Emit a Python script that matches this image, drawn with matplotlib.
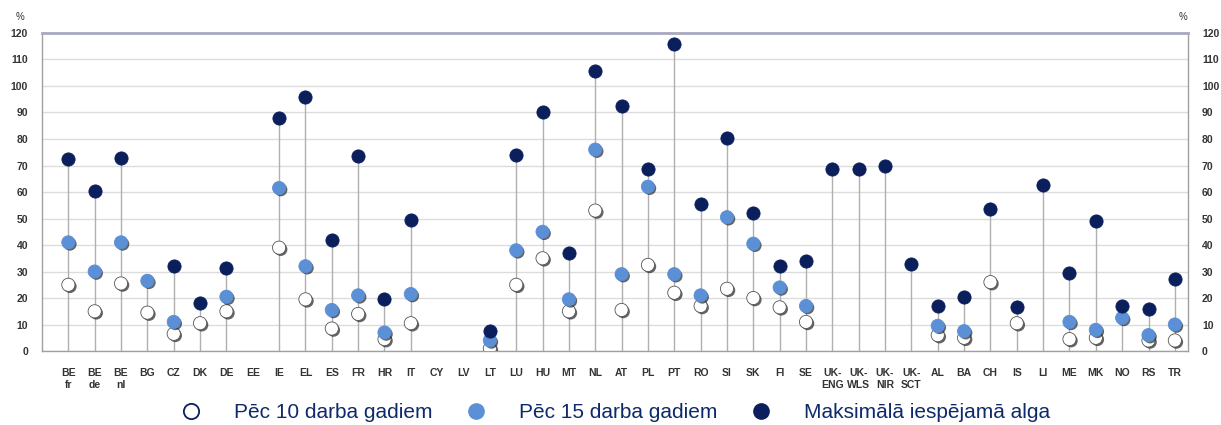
import numpy as np
import matplotlib
matplotlib.use('Agg')
import matplotlib.pyplot as plt
import matplotlib.patheffects as pe
from matplotlib.lines import Line2D

plt.rcParams['font.family'] = ['Liberation Sans', 'DejaVu Sans']

# data, nan = no value
countries = ['BE\nfr', 'BE\nde', 'BE\nnl', 'BG', 'CZ', 'DK', 'DE', 'EE', 'IE', 'EL', 'ES', 'FR',
             'HR', 'IT', 'CY', 'LV', 'LT', 'LU', 'HU', 'MT', 'NL', 'AT', 'PL', 'PT', 'RO', 'SI',
             'SK', 'FI', 'SE', 'UK-\nENG', 'UK-\nWLS', 'UK-\nNIR', 'UK-\nSCT', 'AL', 'BA', 'CH',
             'IS', 'LI', 'ME', 'MK', 'NO', 'RS', 'TR']
nan = np.nan
after10 = [25, 15, 25.5, 14.5, 6.5, 10.5, 15, nan, 39, 19.5, 8.5, 14,
           4.5, 10.5, nan, nan, 1, 25, 35, 15, 53, 15.5, 32.5, 22, 17, 23.5,
           20, 16.5, 11, nan, nan, nan, nan, 6, 5, 26,
           10.5, nan, 4.5, 5, nan, 4, 4]
after15 = [41, 30, 41, 26.5, 11, nan, 20.5, nan, 61.5, 32, 15.5, 21,
           7, 21.5, nan, nan, 4, 38, 45, 19.5, 76, 29, 62, 29, 21, 50.5,
           40.5, 24, 17, nan, nan, nan, nan, 9.5, 7.5, nan,
           nan, nan, 11, 8, 12.5, 6, 10]
maximum = [72.5, 60.5, 73, nan, 32, 18, 31.5, nan, 88, 96, 42, 73.5,
           19.5, 49.5, nan, nan, 7.5, 74, 90, 37, 105.5, 92.5, 68.5, 116, 55.5, 80.5,
           52, 32, 34, 68.5, 68.5, 70, 33, 17, 20.5, 53.5,
           16.5, 62.5, 29.5, 49, 17, 16, 27]

labels = ['Pēc 10 darba gadiem', 'Pēc 15 darba gadiem', 'Maksimālā iespējamā alga']

dark = '#0a1f5c'
light = '#5b8fd6'

x = np.arange(len(countries))
top = np.nanmax(np.vstack([after10, after15, maximum]), axis=0)

fig = plt.figure(figsize=(12.21, 4.25), dpi=100)
ax = fig.add_axes([0.0344, 0.174, 0.9386, 0.7484])

# stems
for xi, t in zip(x, top):
    if not np.isnan(t):
        ax.plot([xi, xi], [0, t], color='#b0b0b0', lw=1.0, zorder=2)

shadow = [pe.SimplePatchShadow(offset=(1.2, -1.2), shadow_rgbFace='#222222', alpha=0.7), pe.Normal()]
ax.plot(x, after10, 'o', ms=9.5, mfc='white', mec='#555555', mew=0.6, zorder=3, path_effects=shadow)
ax.plot(x, after15, 'o', ms=9.5, mfc=light, mec=light, mew=0.6, zorder=4, path_effects=shadow)
ax.plot(x, maximum, 'o', ms=9.5, mfc=dark, mec=dark, mew=0.6, zorder=5)

ax.set_xlim(-1, 42.5)
ax.set_ylim(0, 120)
ax.set_yticks(range(0, 121, 10))
ax.yaxis.grid(True, color='#dcdcdc', lw=1.0)
ax.set_axisbelow(True)
ax.set_xticks(x)
ax.set_xticklabels(countries, fontsize=7.5, fontweight='bold', color='#333333', linespacing=1.3)
ax.tick_params(axis='x', length=0, pad=12)
ax.tick_params(axis='y', length=0, pad=10, labelsize=7.5, labelcolor='#333333',
               right=True, labelright=True)
for lab in ax.get_yticklabels():
    lab.set_fontweight('bold')
for s in ['left', 'bottom', 'right']:
    ax.spines[s].set_color('#a0a0a0')
    ax.spines[s].set_linewidth(1.0)
ax.spines['top'].set_color('#a8a8c0')
ax.spines['top'].set_linewidth(2.0)

fig.text(20 / 1221, 1 - 17 / 425, '%', fontsize=7, color='#333333', ha='center', va='center')
fig.text(1183 / 1221, 1 - 17 / 425, '%', fontsize=7, color='#333333', ha='center', va='center')

handles = [Line2D([], [], ls='none', marker='o', ms=11, mfc='white', mec='#0a1f5c', mew=1.3),
           Line2D([], [], ls='none', marker='o', ms=11, mfc=light, mec=light),
           Line2D([], [], ls='none', marker='o', ms=11, mfc=dark, mec=dark)]
fig.legend(handles, labels, loc='center', bbox_to_anchor=(0.4996, 1 - 413 / 425), ncol=3,
           frameon=False, fontsize=15, labelcolor='#0e2a6b', handletextpad=1.05,
           columnspacing=1.1, borderpad=0)

fig.savefig('out.png', dpi=100)
